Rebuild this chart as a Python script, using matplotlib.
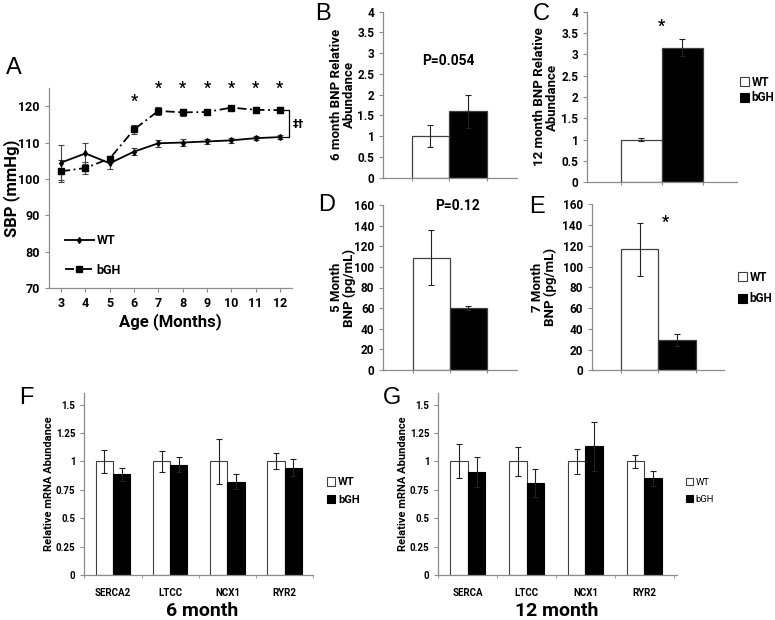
import matplotlib
matplotlib.use("Agg")
import matplotlib.pyplot as plt
from matplotlib.patches import Patch
import numpy as np

# ---------------- data ----------------
months = [3, 4, 5, 6, 7, 8, 9, 10, 11, 12]
sbp_wt = [104.5, 107.0, 104.3, 107.5, 109.8, 110.0, 110.3, 110.6, 111.2, 111.5]
sbp_wt_err = [4.8, 2.8, 1.5, 1.0, 1.0, 1.0, 0.7, 0.7, 0.5, 0.5]
sbp_bgh = [102.1, 103.0, 105.6, 113.6, 118.7, 118.3, 118.4, 119.6, 119.0, 118.9]
sbp_bgh_err = [3.0, 1.6, 0.8, 1.2, 1.0, 1.0, 0.5, 0.5, 0.8, 0.8]
sig_months = [6, 7, 8, 9, 10, 11, 12]

groups = ["WT", "bGH"]
bnp6_rel = [1.0, 1.6]
bnp6_rel_err = [0.27, 0.40]
bnp12_rel = [1.0, 3.15]
bnp12_rel_err = [0.04, 0.20]
bnp5_conc = [109.0, 60.0]
bnp5_conc_err = [27.0, 2.0]
bnp7_conc = [116.5, 29.0]
bnp7_conc_err = [25.5, 6.0]

genes_f = ["SERCA2", "LTCC", "NCX1", "RYR2"]
mrna6_wt = [1.0, 1.0, 1.0, 1.0]
mrna6_wt_err = [0.10, 0.095, 0.195, 0.07]
mrna6_bgh = [0.885, 0.97, 0.82, 0.945]
mrna6_bgh_err = [0.06, 0.065, 0.065, 0.075]

genes_g = ["SERCA", "LTCC", "NCX1", "RYR2"]
mrna12_wt = [1.0, 1.0, 1.0, 1.0]
mrna12_wt_err = [0.15, 0.13, 0.11, 0.06]
mrna12_bgh = [0.905, 0.81, 1.135, 0.85]
mrna12_bgh_err = [0.13, 0.12, 0.215, 0.065]

# ---------------- layout ----------------
W, H = 775, 620
plt.rcParams['font.family'] = ["Roboto", "DejaVu Sans"]
plt.rcParams['font.weight'] = "bold"
fig = plt.figure(figsize=(W / 100, H / 100), dpi=100)
LET = ["Liberation Sans", "DejaVu Sans"]
SPINE = "#8c8c8c"


def axpx(l, t, r, b):
    return fig.add_axes([l / W, 1 - b / H, (r - l) / W, (b - t) / H])


def T(x, y, s, **kw):
    return fig.text(x / W, 1 - y / H, s, **kw)


def letter(x, y, s):
    T(x, y, s, fontsize=17, ha="center", va="center", family=LET, fontweight="normal")


def ylab(ax, text, right_px, fs, left_px, width_px):
    ax.set_ylabel(text, fontsize=fs, fontweight="bold", linespacing=1.0)
    ax.yaxis.set_label_coords((right_px - left_px) / width_px, 0.5)


def style(ax, fs):
    for s in ("top", "right"):
        ax.spines[s].set_visible(False)
    for s in ("left", "bottom"):
        ax.spines[s].set_color(SPINE)
        ax.spines[s].set_linewidth(0.9)
    ax.tick_params(axis="both", colors=SPINE, labelcolor="black", labelsize=fs,
                   length=3, width=0.8, direction="out")


# ---------------- Panel A ----------------
axA = axpx(49, 88, 292, 288)
ebw = axA.errorbar(months, sbp_wt, yerr=sbp_wt_err, color="black", lw=1.3, marker="d",
                   ms=3, ecolor="#444444", elinewidth=0.8, capsize=2, capthick=0.8)
ebb = axA.errorbar(months, sbp_bgh, yerr=sbp_bgh_err, color="black", lw=1.3,
                   ls=(0, (5, 2, 1, 2)), marker="s", ms=4, ecolor="#444444",
                   elinewidth=0.8, capsize=2, capthick=0.8)
axA.set_xlim(2.5, 12.5)
axA.set_ylim(70, 125)
axA.set_xticks(months)
axA.set_yticks([70, 80, 90, 100, 110, 120])
style(axA, 9)
for m in sig_months:
    yv = 121.3 if m == 6 else 125.0
    axA.text(m, yv, "*", ha="center", va="center", fontsize=11.5, fontweight="bold",
             clip_on=False)
# bracket
x0, x1 = 12.15, 12.38
axA.plot([x0, x1, x1, x0], [sbp_bgh[-1], sbp_bgh[-1], sbp_wt[-1], sbp_wt[-1]],
         color="black", lw=0.9, clip_on=False)
axA.text(12.55, (sbp_bgh[-1] + sbp_wt[-1]) / 2, "‡†", ha="left", va="center", fontsize=8,
         fontweight="bold", clip_on=False, family=["DejaVu Sans"])
axA.legend([ebw[0], ebb[0]], groups, loc="lower left", bbox_to_anchor=(0.02, 0.0),
           frameon=False, handlelength=2.3, labelspacing=1.35, handletextpad=0.2,
           prop={"weight": "bold", "size": 9})
axA.set_xlabel("Age (Months)", fontsize=12, fontweight="bold", labelpad=2)
ylab(axA, "SBP (mmHg)", 20, 12, 49, 243)
letter(14, 68, "A")


# ---------------- bar panels B-E ----------------
def two_bar(ax, vals, errs, xlim, ylim, yticks, fs=8.5):
    cols = ["white", "black"]
    for i in range(2):
        ax.bar(i, vals[i], width=1.0, color=cols[i], edgecolor="#404040", lw=0.9)
        ax.errorbar(i, vals[i], yerr=errs[i], color="#222222", elinewidth=0.8, capsize=2,
                    capthick=0.8)
    ax.set_xlim(*xlim)
    ax.set_ylim(*ylim)
    ax.set_yticks(yticks)
    ax.set_xticks([-0.5, 0.5, 1.5])
    ax.set_xticklabels([])
    style(ax, fs)
    ax.tick_params(axis="x", length=2)


rel_ticks = [0, 0.5, 1, 1.5, 2, 2.5, 3, 3.5, 4]
rel_labels = ["0", "0.5", "1", "1.5", "2", "2.5", "3", "3.5", "4"]

axB = axpx(383.3, 11.7, 517, 177.7)
two_bar(axB, bnp6_rel, bnp6_rel_err, (-1.253, 2.312), (0, 4), rel_ticks)
axB.set_yticklabels(rel_labels)
ylab(axB, "6 month BNP Relative\nAbundance", 356, 9.5, 383.3, 133.7)
T(448, 61, "P=0.054", fontsize=10, fontweight="bold", ha="center", va="center")
letter(323, 14, "B")

axC = axpx(587.3, 11.7, 737, 182.3)
two_bar(axC, bnp12_rel, bnp12_rel_err, (-1.315, 2.337), (0, 4), rel_ticks)
axC.set_yticklabels(rel_labels)
ylab(axC, "12 month BNP Relative\nAbundance", 559, 9.5, 587.3, 149.7)
axC.text(0.5, 3.65, "*", ha="center", va="center", fontsize=11.5, fontweight="bold")
letter(541, 14, "C")

axD = axpx(383.3, 205, 517, 370)
two_bar(axD, bnp5_conc, bnp5_conc_err, (-1.29, 2.32), (0, 160), np.arange(0, 161, 20))
ylab(axD, "5 Month\nBNP (pg/mL)", 356, 9.5, 383.3, 133.7)
T(458, 206, "P=0.12", fontsize=10, fontweight="bold", ha="center", va="center")
letter(327, 205, "D")

axE = axpx(591.7, 204.3, 724, 370.3)
two_bar(axE, bnp7_conc, bnp7_conc_err, (-1.27, 2.24), (0, 160), np.arange(0, 161, 20))
ylab(axE, "7 Month\nBNP (pg/mL)", 557, 9.5, 591.7, 132.3)
axE.text(0.68, 143, "*", ha="center", va="center", fontsize=11.5, fontweight="bold")
letter(537, 207, "E")


def bar_legend(ax, x, y, fs, spacing, weight="bold"):
    handles = [Patch(facecolor="white", edgecolor="#404040", lw=0.8),
               Patch(facecolor="black", edgecolor="black", lw=0.8)]
    ax.legend(handles, groups, loc="center left", bbox_to_anchor=(x / W, 1 - y / H),
              bbox_transform=fig.transFigure, frameon=False, handlelength=0.75,
              handleheight=0.75, handletextpad=0.25, labelspacing=spacing, borderpad=0,
              borderaxespad=0, prop={"weight": weight, "size": fs})


bar_legend(axC, 740, 90, 8.5, 0.25)
bar_legend(axE, 738, 288, 8.5, 0.75)


# ---------------- panels F, G ----------------
def gene_panel(ax, genes, wt, wte, bg, bge, xlim):
    x = np.arange(len(genes))
    bw = 0.3
    ax.bar(x - bw / 2, wt, width=bw, color="white", edgecolor="#404040", lw=0.8)
    ax.bar(x + bw / 2, bg, width=bw, color="black", edgecolor="black", lw=0.8)
    ax.errorbar(x - bw / 2, wt, yerr=wte, fmt="none", ecolor="#222222", elinewidth=0.8,
                capsize=2, capthick=0.8)
    ax.errorbar(x + bw / 2, bg, yerr=bge, fmt="none", ecolor="#222222", elinewidth=0.8,
                capsize=2, capthick=0.8)
    ax.set_xlim(*xlim)
    ax.set_ylim(0, 1.6)
    ax.set_yticks([0, 0.25, 0.5, 0.75, 1, 1.25, 1.5])
    ax.set_yticklabels(["0", "0.25", "0.5", "0.75", "1", "1.25", "1.5"])
    ax.set_xticks(x)
    ax.set_xticklabels(genes)
    style(ax, 7)
    ax.tick_params(axis="x", length=0, pad=9)
    ax.set_xticks(np.arange(-0.5, len(genes), 1.0), minor=True)
    ax.tick_params(axis="x", which="minor", length=2.5, colors=SPINE)


axF = axpx(84.3, 393.3, 313.3, 575)
gene_panel(axF, genes_f, mrna6_wt, mrna6_wt_err, mrna6_bgh, mrna6_bgh_err, (-0.5, 3.5))
ylab(axF, "Relative mRNA Abundance", 54, 8, 84.3, 229)
T(201.7, 611, "6 month", fontsize=14, fontweight="bold", ha="center", va="center")
letter(26, 398, "F")
bar_legend(axF, 327, 491, 8, 0.65)

axG = axpx(438.3, 393.3, 676.7, 575)
gene_panel(axG, genes_g, mrna12_wt, mrna12_wt_err, mrna12_bgh, mrna12_bgh_err, (-0.5, 3.55))
ylab(axG, "Relative mRNA Abundance", 408, 8, 438.3, 238.4)
T(556.7, 611, "12 month", fontsize=14, fontweight="bold", ha="center", va="center")
letter(392, 398, "G")
bar_legend(axG, 686, 491, 6.8, 0.85, weight="normal")

fig.savefig("out.png", dpi=100)
